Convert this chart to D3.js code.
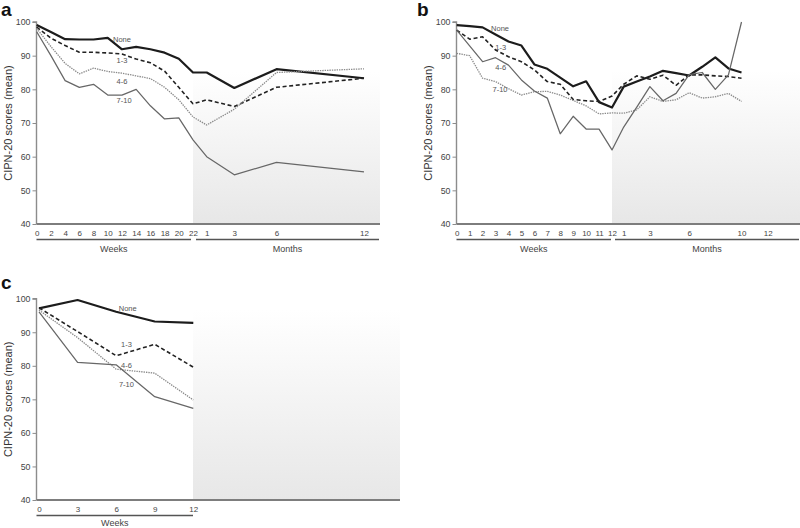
<!DOCTYPE html>
<html><head><meta charset="utf-8">
<script src="https://cdn.jsdelivr.net/npm/d3@7"></script>
<style>
html,body{margin:0;padding:0;background:#fff;}
svg{display:block;font-family:"Liberation Sans",Arial,sans-serif;}
</style></head>
<body>
<svg id="chart" width="800" height="528"></svg>
<script>
// ---------- DATA ----------
const yTicks = [40, 50, 60, 70, 80, 90, 100];
const seriesNames = ["None", "1-3", "4-6", "7-10"];

// Panel a
const aWeeks = [0, 2, 4, 6, 8, 10, 12, 14, 16, 18, 20, 22];
const aMonths = [1, 3, 6, 12];
const aMonthTicks = [1, 3, 6, 12];
const aNoneW = [99.1, 97.0, 94.9, 94.8, 94.8, 95.3, 91.9, 92.6, 91.9, 90.9, 89.1, 85.0];
const aNoneM = [85.0, 80.4, 86.0, 83.3];
const a13W = [98.5, 95.2, 93.0, 91.0, 91.0, 90.8, 90.5, 89.0, 87.9, 85.4, 80.6, 75.7];
const a13M = [76.9, 74.9, 80.6, 83.3];
const a46W = [98.1, 92.7, 87.7, 84.6, 86.3, 85.3, 84.8, 84.0, 83.2, 80.6, 76.9, 71.8];
const a46M = [69.4, 74.1, 85.0, 86.1];
const a710W = [97.1, 90.0, 82.6, 80.6, 81.5, 78.3, 78.3, 80.0, 75.1, 71.2, 71.5, 65.0];
const a710M = [60.0, 54.6, 58.3, 55.5];
const aLabelPos = [[12, 94.9], [12, 88.7], [12, 82.5], [12.3, 76.6]]; // [week, value]

// Panel b
const bWeeks = [0, 1, 2, 3, 4, 5, 6, 7, 8, 9, 10, 11, 12];
const bMonths = [1, 2, 3, 4, 5, 6, 7, 8, 9, 10];
const bMonthTicks = [1, 3, 6, 10, 12];
const bNoneW = [99.1, 98.8, 98.4, 96.3, 94.2, 93.0, 87.4, 86.1, 83.5, 80.9, 82.4, 76.2, 74.6];
const bNoneM = [80.8, 82.3, 83.8, 85.5, 84.8, 84.1, 86.7, 89.5, 86.2, 85.0];
const b13W = [97.6, 94.9, 95.6, 91.7, 89.7, 88.2, 85.8, 82.3, 81.5, 77.0, 76.6, 76.4, 78.0];
const b13M = [81.5, 84.0, 83.0, 84.2, 81.2, 84.3, 84.3, 84.0, 83.8, 83.3];
const b46W = [90.7, 90.0, 83.3, 82.3, 80.2, 78.3, 79.3, 79.4, 78.3, 76.7, 75.1, 72.7, 73.0];
const b46M = [72.9, 73.9, 77.8, 76.4, 76.9, 79.0, 77.4, 77.8, 78.8, 76.4];
const b710W = [97.6, 92.9, 88.2, 89.4, 87.2, 82.8, 79.5, 77.4, 66.8, 72.0, 68.2, 68.2, 62.0];
const b710M = [68.8, 74.7, 80.8, 76.6, 78.8, 84.4, 85.0, 80.0, 84.3, 100.0];
const bLabelPos = [[3.35, 98.1], [3.4, 92.5], [3.4, 86.4], [3.35, 80.0]];

// Panel c
const cWeeks = [0, 3, 6, 9, 12];
const cNoneW = [97.1, 99.6, 96.1, 93.2, 92.8];
const c13W = [97.3, 90.2, 83.0, 86.4, 79.6];
const c46W = [96.6, 88.4, 79.0, 77.8, 69.8];
const c710W = [96.1, 81.0, 80.3, 70.8, 67.3];
const cLabelPos = [[6.9, 97.1], [6.8, 86.3], [6.8, 80.0], [6.8, 74.4]];

// ---------- STYLE ----------
const styles = [
  {stroke: "#1c1c1c", width: 2.2, dash: null},
  {stroke: "#222", width: 1.6, dash: "4,2.6"},
  {stroke: "#8a8a8a", width: 1.3, dash: "1.4,1"},
  {stroke: "#676767", width: 1.25, dash: null}
];

const svg = d3.select("#chart");
const defs = svg.append("defs");
const grad = defs.append("linearGradient").attr("id", "shade")
  .attr("x1", 0).attr("y1", 0).attr("x2", 0).attr("y2", 1);
grad.append("stop").attr("offset", "0%").attr("stop-color", "#ffffff");
grad.append("stop").attr("offset", "100%").attr("stop-color", "#e7e7e7");

function panel(cfg) {
  const g = svg.append("g");
  const y = d3.scaleLinear().domain([40, 100]).range([cfg.yBottom, cfg.yTop]);
  const xW = d3.scaleLinear().domain(cfg.wDomain).range(cfg.wRange);
  const xM = cfg.mDomain ? d3.scaleLinear().domain(cfg.mDomain).range(cfg.mRange) : null;

  // shaded follow-up area
  g.append("rect")
    .attr("x", cfg.shade[0]).attr("width", cfg.shade[1] - cfg.shade[0])
    .attr("y", cfg.shadeTop).attr("height", cfg.yBottom - cfg.shadeTop)
    .attr("fill", "url(#shade)");

  // y axis
  const yAxis = d3.axisLeft(y).tickValues(yTicks).tickSize(4).tickPadding(2);
  const ya = g.append("g").attr("transform", `translate(${cfg.axisX},0)`).call(yAxis);
  ya.select(".domain").attr("stroke", "#8c8c8c").attr("stroke-width", 1.4)
    .attr("d", `M-4,${cfg.yTop}H0V${cfg.yBottom}`);
  ya.selectAll(".tick line").attr("stroke", "#8c8c8c");
  ya.selectAll(".tick text").attr("fill", "#444").style("font-size", "8.8px")
    .style("font-family", "Liberation Sans, Arial, sans-serif");

  // x axis baseline
  g.append("line").attr("x1", cfg.axisX).attr("x2", cfg.shade[1])
    .attr("y1", cfg.yBottom).attr("y2", cfg.yBottom)
    .attr("stroke", "#7d7d7d").attr("stroke-width", 1.8);

  // x tick labels via axes (no tick marks)
  const xaW = d3.axisBottom(xW).tickValues(cfg.wTicks).tickSize(0).tickPadding(6);
  const gw = g.append("g").attr("transform", `translate(0,${cfg.yBottom})`).call(xaW);
  gw.select(".domain").remove();
  gw.selectAll("text").attr("fill", "#444").style("font-size", "8px")
    .style("font-family", "Liberation Sans, Arial, sans-serif");
  if (xM) {
    const xaM = d3.axisBottom(xM).tickValues(cfg.mTicks).tickSize(0).tickPadding(6);
    const gm = g.append("g").attr("transform", `translate(0,${cfg.yBottom})`).call(xaM);
    gm.select(".domain").remove();
    gm.selectAll("text").attr("fill", "#444").style("font-size", "8px")
      .style("font-family", "Liberation Sans, Arial, sans-serif");
  }

  // brackets
  const by = cfg.yBottom + 15.5;
  g.append("line").attr("x1", cfg.axisX).attr("x2", cfg.wBracketEnd)
    .attr("y1", by).attr("y2", by).attr("stroke", "#555").attr("stroke-width", 1.3);
  g.append("text").attr("x", (cfg.axisX + cfg.wBracketEnd) / 2).attr("y", by + cfg.titleGap)
    .attr("text-anchor", "middle").attr("fill", "#444").style("font-size", "9px").text("Weeks");
  if (xM) {
    g.append("line").attr("x1", cfg.mBracket[0]).attr("x2", cfg.mBracket[1])
      .attr("y1", by).attr("y2", by).attr("stroke", "#555").attr("stroke-width", 1.3);
    g.append("text").attr("x", (cfg.mBracket[0] + cfg.mBracket[1]) / 2).attr("y", by + cfg.titleGap)
      .attr("text-anchor", "middle").attr("fill", "#444").style("font-size", "9px").text("Months");
  }

  // lines
  const line = d3.line().x(d => d.px).y(d => y(d.v));
  cfg.series.forEach((s, i) => {
    const pts = cfg.weeks.map((w, j) => ({px: xW(w), v: s.w[j]}));
    if (xM && s.m) cfg.months.forEach((m, j) => pts.push({px: xM(m), v: s.m[j]}));
    const st = styles[i];
    g.append("path").datum(pts).attr("d", line).attr("fill", "none")
      .attr("stroke", st.stroke).attr("stroke-width", st.width)
      .attr("stroke-linejoin", "round")
      .attr("stroke-dasharray", st.dash);
  });

  // series labels
  cfg.labels.forEach((p, i) => {
    g.append("text").attr("x", xW(p[0])).attr("y", y(p[1]))
      .attr("dy", "0.35em").attr("text-anchor", "middle")
      .attr("fill", "#555").style("font-size", "7.5px").text(seriesNames[i]);
  });

  // y label
  g.append("text")
    .attr("transform", `translate(${cfg.yLabelX},${(cfg.yTop + cfg.yBottom) / 2}) rotate(-90)`)
    .attr("text-anchor", "middle").attr("dy", "0.35em")
    .attr("fill", "#333").style("font-size", "11px").text("CIPN-20 scores (mean)");

  // panel letter
  g.append("text").attr("x", cfg.letterX).attr("y", cfg.letterY)
    .attr("fill", "#111").style("font-size", "19px").style("font-weight", "bold")
    .text(cfg.letter);
}

panel({
  letter: "a", letterX: 1, letterY: 16,
  yTop: 22, yBottom: 224, axisX: 36.5, yLabelX: 8,
  wDomain: [0, 22], wRange: [36.7, 193], wTicks: aWeeks,
  mDomain: [1, 3, 6, 12], mRange: [206.7, 234.3, 276.5, 364], mTicks: aMonthTicks,
  weeks: aWeeks, months: aMonths,
  shade: [193, 380], shadeTop: 72,
  wBracketEnd: 191, mBracket: [196, 379], titleGap: 12,
  series: [{w: aNoneW, m: aNoneM}, {w: a13W, m: a13M}, {w: a46W, m: a46M}, {w: a710W, m: a710M}],
  labels: aLabelPos
});

panel({
  letter: "b", letterX: 417, letterY: 16,
  yTop: 22, yBottom: 224, axisX: 456.5, yLabelX: 428,
  wDomain: [0, 12], wRange: [456.7, 612], wTicks: bWeeks,
  mDomain: [1, 12], mRange: [623.7, 767.7], mTicks: bMonthTicks,
  weeks: bWeeks, months: bMonths,
  shade: [612, 800], shadeTop: 70,
  wBracketEnd: 611, mBracket: [615, 799], titleGap: 12,
  series: [{w: bNoneW, m: bNoneM}, {w: b13W, m: b13M}, {w: b46W, m: b46M}, {w: b710W, m: b710M}],
  labels: bLabelPos
});

panel({
  letter: "c", letterX: 1, letterY: 289,
  yTop: 298.7, yBottom: 500, axisX: 36.5, yLabelX: 8,
  wDomain: [0, 12], wRange: [39, 193.3], wTicks: cWeeks,
  weeks: cWeeks,
  shade: [193, 400], shadeTop: 310,
  wBracketEnd: 193, titleGap: 10,
  series: [{w: cNoneW}, {w: c13W}, {w: c46W}, {w: c710W}],
  labels: cLabelPos
});
</script>
</body></html>
